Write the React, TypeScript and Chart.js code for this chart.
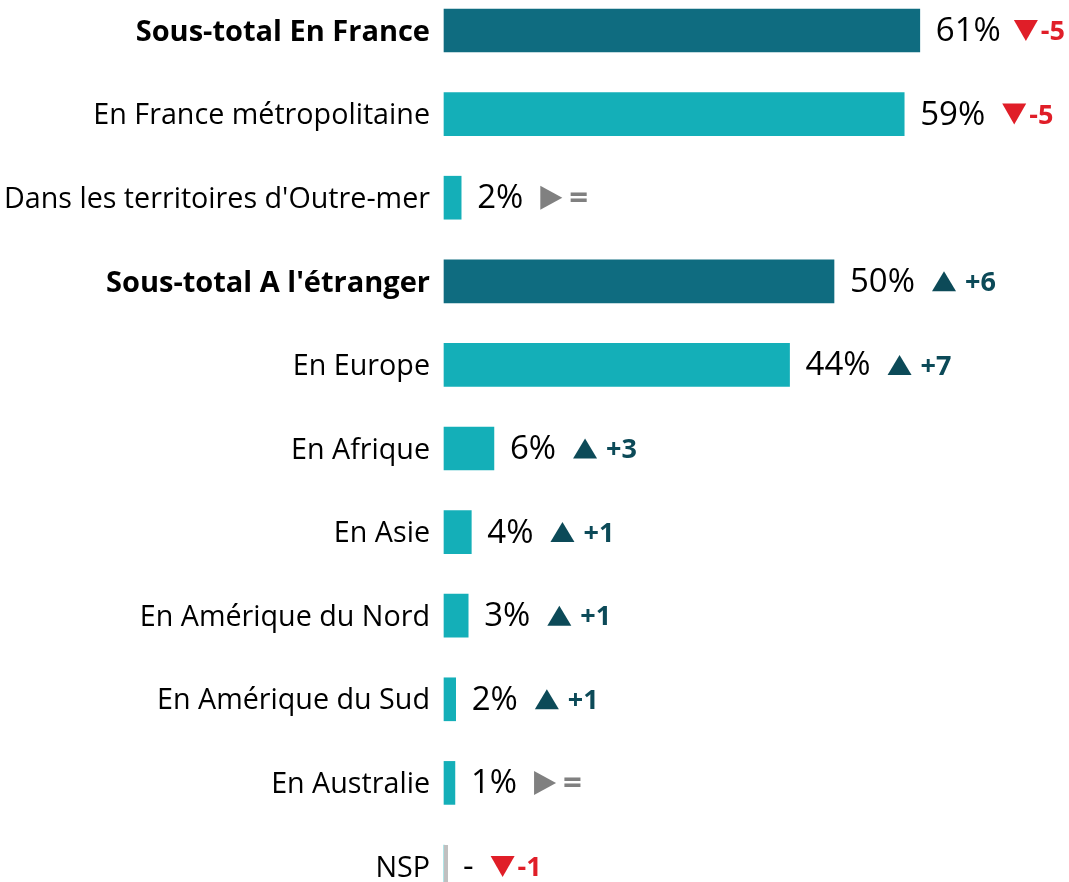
import { useEffect, useRef } from 'react';
import { Chart, registerables } from 'chart.js';

Chart.register(...registerables);

const categories = [
  'Sous-total En France',
  'En France métropolitaine',
  "Dans les territoires d'Outre-mer",
  "Sous-total A l'étranger",
  'En Europe',
  'En Afrique',
  'En Asie',
  'En Amérique du Nord',
  'En Amérique du Sud',
  'En Australie',
  'NSP',
];
const values = [61, 59, 2.2, 50, 44.3, 6.4, 3.5, 3.1, 1.5, 1.4, 0];
const valueLabels = ['61%', '59%', '2%', '50%', '44%', '6%', '4%', '3%', '2%', '1%', '-'];
const deltaLabels = ['-5', '-5', '=', '+6', '+7', '+3', '+1', '+1', '+1', '=', '-1'];
const deltaDirections = ['down', 'down', 'flat', 'up', 'up', 'up', 'up', 'up', 'up', 'flat', 'down'];

const FONT = '"Open Sans", sans-serif';
const DARK = '#0F6C80';
const LIGHT = '#14AFB8';
const UP = '#0C4A58';
const DOWN = '#E01E28';
const FLAT = '#808080';
const NSP_LINE = '#C0C0C0';

const isSubtotal = (label: string) => label.startsWith('Sous-total');

const labelsPlugin = {
  id: 'valueLabels',
  afterDatasetsDraw(chart: any) {
    const ctx = chart.ctx;
    const meta = chart.getDatasetMeta(0);
    ctx.save();
    meta.data.forEach((bar: any, i: number) => {
      const cy = bar.y;
      let end = bar.x;
      if (values[i] === 0) {
        ctx.fillStyle = NSP_LINE;
        ctx.fillRect(bar.base, cy - 21.5, 4, 43);
        end = bar.base + 3;
      }
      ctx.textBaseline = 'middle';
      ctx.textAlign = 'left';
      ctx.fillStyle = '#000';
      ctx.font = `33px ${FONT}`;
      const px = end + 16;
      ctx.fillText(valueLabels[i], px, cy + 1);
      const w = ctx.measureText(valueLabels[i]).width;
      const dir = deltaDirections[i];
      let mx = px + w + 17;
      ctx.font = dir === 'flat' ? `bold 33px ${FONT}` : `bold 27px ${FONT}`;
      const dw = ctx.measureText(deltaLabels[i]).width;
      const mw = dir === 'flat' ? 22 : 24;
      const gap = dir === 'down' ? 3 : dir === 'flat' ? 7 : 9;
      const over = mx + mw + gap + dw - (chart.width - 4);
      if (over > 0) mx -= over;
      ctx.beginPath();
      if (dir === 'up') {
        ctx.fillStyle = UP;
        ctx.moveTo(mx, cy + 10);
        ctx.lineTo(mx + 24, cy + 10);
        ctx.lineTo(mx + 12, cy - 10);
      } else if (dir === 'down') {
        ctx.fillStyle = DOWN;
        ctx.moveTo(mx, cy - 10.5);
        ctx.lineTo(mx + 24, cy - 10.5);
        ctx.lineTo(mx + 12, cy + 10.5);
      } else {
        ctx.fillStyle = FLAT;
        ctx.moveTo(mx, cy - 12);
        ctx.lineTo(mx + 22, cy);
        ctx.lineTo(mx, cy + 12);
      }
      ctx.closePath();
      ctx.fill();
      ctx.fillText(deltaLabels[i], mx + mw + gap, cy + 2);
    });
    ctx.restore();
  },
};

export default function App() {
  const ref = useRef<HTMLCanvasElement>(null);
  useEffect(() => {
    document.body.style.margin = '0';
    const chart = new Chart(ref.current as HTMLCanvasElement, {
      type: 'bar',
      data: {
        labels: categories,
        datasets: [
          {
            data: values,
            backgroundColor: categories.map((c) => (isSubtotal(c) ? DARK : LIGHT)),
            barThickness: 43,
            clip: false,
          } as any,
        ],
      },
      options: {
        indexAxis: 'y',
        animation: false,
        responsive: false,
        devicePixelRatio: 1,
        layout: { padding: { top: 30.5, bottom: 15.5, left: 0, right: 1 } },
        plugins: { legend: { display: false }, tooltip: { enabled: false } },
        scales: {
          x: { display: false, min: 0, max: 80 },
          y: {
            offset: false,
            grid: { display: false, drawTicks: false },
            border: { display: false },
            afterFit: (scale: any) => {
              scale.width = 444;
              scale.paddingTop = 0;
              scale.paddingBottom = 0;
            },
            ticks: {
              padding: 14,
              labelOffset: 2,
              color: '#000',
              font: (c: any) => {
                const bold = isSubtotal(categories[c.index] || '');
                return { family: FONT, size: bold ? 29 : 28.7, weight: bold ? 'bold' : 'normal' };
              },
            },
          },
        },
      },
      plugins: [labelsPlugin],
    });
    return () => chart.destroy();
  }, []);
  return (
    <div style={{ position: 'absolute', left: 0, top: 0, width: 1069, height: 882 }}>
      <canvas ref={ref} width={1069} height={882} />
    </div>
  );
}
